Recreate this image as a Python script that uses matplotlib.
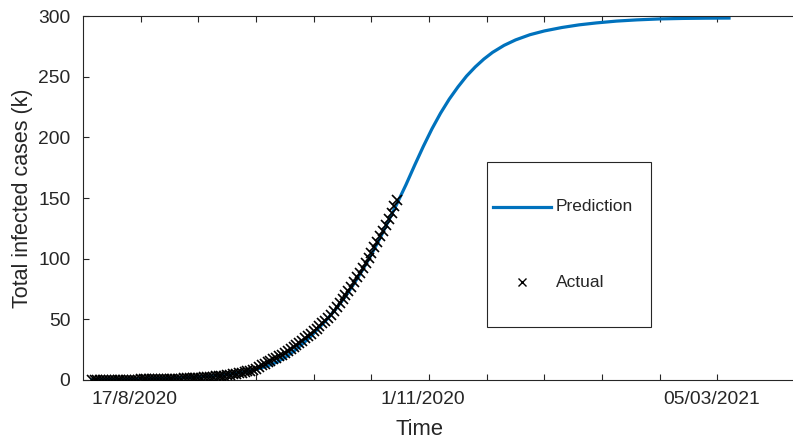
import matplotlib
matplotlib.use('Agg')
import matplotlib.pyplot as plt
from matplotlib.patches import Rectangle
from matplotlib.transforms import ScaledTranslation

plt.rcParams['font.family'] = ['Liberation Sans', 'DejaVu Sans']

# casos reales (miles), un punto por dia desde el dia 3
dias_reales = list(range(3, 110))
casos_reales = [0.1, 0.1, 0.1, 0.1, 0.1, 0.2, 0.2, 0.2, 0.2, 0.2,
                0.3, 0.3, 0.3, 0.3, 0.4, 0.4, 0.4, 0.5, 0.5, 0.5,
                0.6, 0.6, 0.7, 0.7, 0.8, 0.8, 0.9, 0.9, 1.0, 1.1,
                1.1, 1.2, 1.3, 1.4, 1.5, 1.6, 1.7, 1.8, 2.0, 2.1,
                2.3, 2.5, 2.7, 2.9, 3.1, 3.4, 3.7, 4.0, 4.3, 4.7,
                5.1, 5.5, 6.0, 6.5, 7.1, 7.7, 8.4, 9.1, 11.0, 12.2,
                13.4, 14.6, 15.8, 17.0, 18.3, 19.6, 21.0, 22.5, 24.0, 25.6,
                27.2, 28.9, 30.6, 32.4, 34.3, 36.2, 38.2, 40.2, 42.3, 44.4,
                46.6, 48.8, 51.0, 53.9, 56.9, 60.0, 63.2, 66.5, 69.9, 73.4,
                77.0, 80.7, 84.5, 88.4, 92.4, 96.5, 100.7, 105.0, 109.4, 113.9,
                118.5, 123.2, 128.0, 132.9, 137.9, 143.0, 148.2]

# curva de prediccion (miles)
dias_pred = [3, 10, 20, 30, 40, 45, 50, 55, 58, 61, 64, 67, 70, 73, 76, 79,
             82, 85, 88, 91, 94, 97, 100, 103, 106, 109, 112, 115, 118, 121,
             124, 127, 130, 133, 136, 139, 142, 146, 150, 155, 160, 166, 172,
             178, 185, 192, 200, 208, 216, 224]
casos_pred = [0.2, 0.4, 0.8, 1.4, 2.5, 3.3, 4.5, 6.2, 7.6, 9.4, 11.6, 14.5,
              18.5, 23.5, 29.5, 36.0, 43.5, 51.0, 59.5, 69.0, 79.5, 91.0,
              103.5, 117.0, 131.5, 146.0, 161.0, 177.0, 192.5, 207.0, 220.0,
              231.5, 241.5, 250.5, 258.0, 264.5, 270.0, 275.8, 280.3, 284.6,
              287.7, 290.5, 292.7, 294.3, 295.8, 296.8, 297.6, 298.0, 298.2,
              298.3]

xticks = list(range(20, 240, 20))
xtick_labels = ['17/8/2020', '', '', '', '', '1/11/2020', '', '', '', '', '05/03/2021']
yticks = [0, 50, 100, 150, 200, 250, 300]

azul = '#0072BD'
gris = '#262626'

fig = plt.figure(figsize=(7.93, 4.41), dpi=100)
ax = fig.add_axes([83/793, 61/441, 721/793, 364/441])

ax.plot(dias_pred, casos_pred, color=azul, linewidth=2.3, zorder=2)
ax.plot(dias_reales, casos_reales, linestyle='none', marker='x', color='k',
        markersize=6.5, markeredgewidth=1.2, zorder=3)

ax.set_xlim(0, 250)
ax.set_ylim(0, 300)
ax.set_xticks(xticks)
ax.set_xticklabels(xtick_labels)
ax.set_yticks(yticks)

for s in ax.spines.values():
    s.set_color(gris)
    s.set_linewidth(0.8)
ax.tick_params(direction='in', length=4.5, width=0.8, color=gris,
               labelcolor=gris, labelsize=13.9, top=True, right=True)
ax.tick_params(axis='x', pad=8)
ax.tick_params(axis='y', pad=9)

# etiquetas de fecha un poco corridas a la izquierda
corrimiento = ScaledTranslation(-6/100, 0, fig.dpi_scale_trans)
for etiqueta in ax.get_xticklabels():
    etiqueta.set_transform(etiqueta.get_transform() + corrimiento)

ax.set_xlabel('Time', fontsize=15.8, color=gris)
ax.set_ylabel('Total infected cases (k)', fontsize=15.5, color=gris)
ax.xaxis.set_label_coords(337/721, -39/364)
ax.yaxis.set_label_coords(-50/721, 0.5)

# leyenda dibujada a mano
caja = Rectangle((0.5603, 0.1456), 0.2275, 0.4533, transform=ax.transAxes,
                 facecolor='white', edgecolor=gris, linewidth=0.8, zorder=5)
ax.add_patch(caja)
ax.plot([0.5687, 0.6491], [0.4753, 0.4753], transform=ax.transAxes,
        color=azul, linewidth=2.3, zorder=6)
ax.plot([0.6089], [0.2692], transform=ax.transAxes, marker='x', color='k',
        markersize=6, markeredgewidth=1.0, zorder=6)
ax.text(0.656, 0.4753, 'Prediction', transform=ax.transAxes, fontsize=12.5,
        color=gris, va='center', ha='left', zorder=6)
ax.text(0.656, 0.2692, 'Actual', transform=ax.transAxes, fontsize=12.5,
        color=gris, va='center', ha='left', zorder=6)

fig.savefig('out.png', dpi=100)
